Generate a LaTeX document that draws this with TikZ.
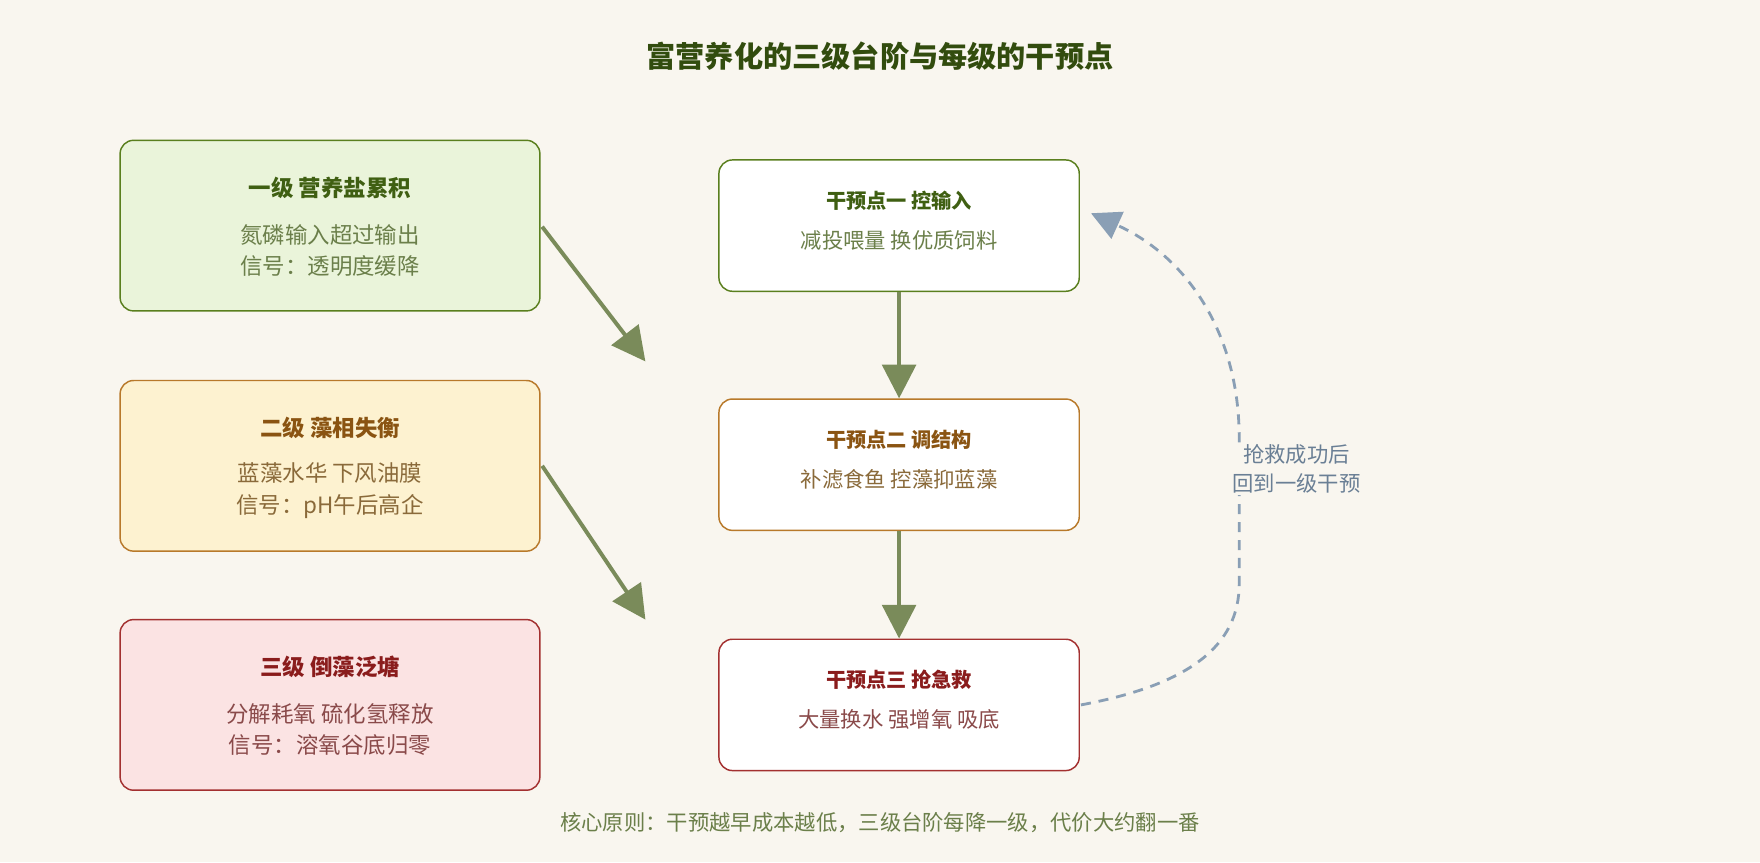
\documentclass[tikz,border=0pt]{standalone}
\usepackage{fontspec}
\setmainfont{Noto Sans CJK SC}
\usetikzlibrary{arrows.meta}
\definecolor{bg}{HTML}{F9F6EF}
\definecolor{gfill}{HTML}{EAF4DA}\definecolor{gdraw}{HTML}{5A7F1E}\definecolor{gtit}{HTML}{3F5F12}\definecolor{gtxt}{HTML}{6B7F4A}
\definecolor{ofill}{HTML}{FDF2D0}\definecolor{odraw}{HTML}{B8792A}\definecolor{otit}{HTML}{8A5412}\definecolor{otxt}{HTML}{8A6A3A}
\definecolor{rfill}{HTML}{FBE3E3}\definecolor{rdraw}{HTML}{A33030}\definecolor{rtit}{HTML}{8A1C1C}\definecolor{rtxt}{HTML}{8A4A4A}
\definecolor{arr}{HTML}{7A8B5A}\definecolor{dashc}{HTML}{8A9FB5}\definecolor{lab}{HTML}{6A7F95}
\tikzset{
 box/.style={rounded corners=12pt,line width=1.3pt,align=center,inner sep=0pt},
 lbox/.style={box,minimum width=374pt,minimum height=152pt},
 rbox/.style={box,fill=white,minimum width=321pt,minimum height=117pt},
 flow/.style={arr,line width=3.5pt,-{Triangle[length=30pt,width=30pt]}},
}
\begin{document}
\begin{tikzpicture}[x=1pt,y=-1pt]
\fill[bg] (0,0) rectangle (1568,768);
\useasboundingbox (0,0) rectangle (1568,768);
\node[font=\bfseries\fontsize{26}{30}\selectfont,text=gtit!80!black] (title) at (784,50) {富营养化的三级台阶与每级的干预点};
\node[lbox,fill=gfill,draw=gdraw] (l1) at (294,201) {};
\node[font=\bfseries\fontsize{20}{24}\selectfont,text=gtit] (l1t) at (294,167) {一级 营养盐累积};
\node[font=\fontsize{20}{24}\selectfont,text=gtxt,align=center] (l1b) at (294,223) {氮磷输入超过输出\\[4pt]信号：透明度缓降};
\node[lbox,fill=ofill,draw=odraw] (l2) at (294,415) {};
\node[font=\bfseries\fontsize{20}{24}\selectfont,text=otit] (l2t) at (294,381) {二级 藻相失衡};
\node[font=\fontsize{20}{24}\selectfont,text=otxt,align=center] (l2b) at (294,437) {蓝藻水华 下风油膜\\[4pt]信号：pH午后高企};
\node[lbox,fill=rfill,draw=rdraw] (l3) at (294,628) {};
\node[font=\bfseries\fontsize{20}{24}\selectfont,text=rtit] (l3t) at (294,594) {三级 倒藻泛塘};
\node[font=\fontsize{20}{24}\selectfont,text=rtxt,align=center] (l3b) at (294,650) {分解耗氧 硫化氢释放\\[4pt]信号：溶氧谷底归零};
\node[rbox,draw=gdraw] (r1) at (801,201) {};
\node[font=\bfseries\fontsize{18}{22}\selectfont,text=gtit] (r1t) at (801,179) {干预点一 控输入};
\node[font=\fontsize{19}{22}\selectfont,text=gtxt] (r1b) at (801,214) {减投喂量 换优质饲料};
\node[rbox,draw=odraw] (r2) at (801,414) {};
\node[font=\bfseries\fontsize{18}{22}\selectfont,text=otit] (r2t) at (801,392) {干预点二 调结构};
\node[font=\fontsize{19}{22}\selectfont,text=otxt] (r2b) at (801,427) {补滤食鱼 控藻抑蓝藻};
\node[rbox,draw=rdraw] (r3) at (801,628) {};
\node[font=\bfseries\fontsize{18}{22}\selectfont,text=rtit] (r3t) at (801,606) {干预点三 抢急救};
\node[font=\fontsize{19}{22}\selectfont,text=rtxt] (r3b) at (801,641) {大量换水 强增氧 吸底};
\coordinate (a1s) at (483,202); \coordinate (a1e) at (575,322);
\coordinate (a2s) at (483,415); \coordinate (a2e) at (575,552);
\draw[flow] (a1s) -- (a1e);
\draw[flow] (a2s) -- (a2e);
\draw[flow] (r1) -- (r2);
\draw[flow] (r2) -- (r3);
\coordinate (ds) at (963,628); \coordinate (de) at (972,190);
\draw[dashc,line width=2.5pt,dash pattern=on 9pt off 7pt,-{Triangle[length=26pt,width=26pt]}]
 (ds) .. controls (1060,610) and (1104,575) .. (1104,520) -- (1104,390) .. controls (1104,300) and (1060,230) .. (de);
\node[font=\fontsize{19}{26}\selectfont,text=lab,align=center,fill=bg,inner sep=1pt] (lbl) at (1155,418) {抢救成功后\\回到一级干预};
\node[font=\fontsize{19}{22}\selectfont,text=gtxt] (foot) at (784,733) {核心原则：干预越早成本越低，三级台阶每降一级，代价大约翻一番};
\end{tikzpicture}
\end{document}
